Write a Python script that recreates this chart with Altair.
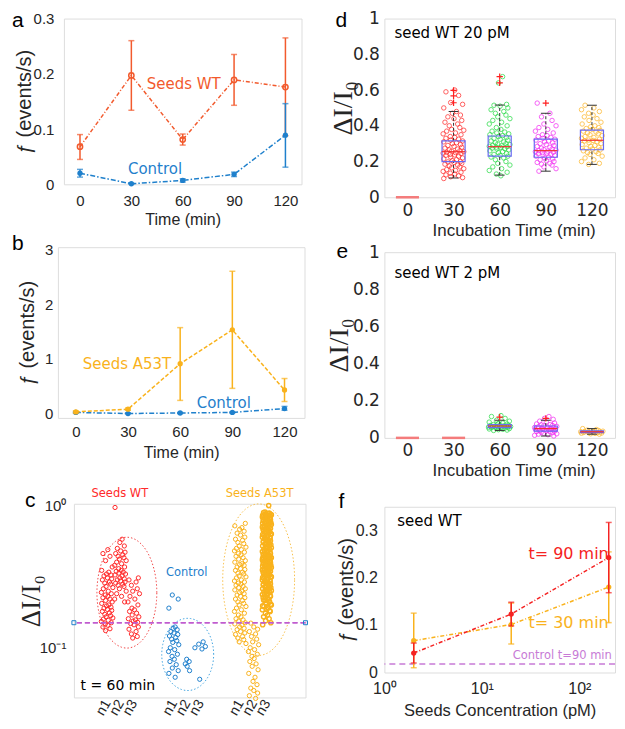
import altair as alt
import numpy as np
import pandas as pd

# ------------------------------------------------------------------ data
TIME = [0, 30, 60, 90, 120]

# panel a
A_WT = [0.068, 0.197, 0.081, 0.189, 0.176]
A_WT_LO = [0.045, 0.134, 0.071, 0.143, 0.088]
A_WT_HI = [0.090, 0.260, 0.091, 0.235, 0.265]
A_CTRL = [0.020, 0.001, 0.007, 0.018, 0.089]
A_CTRL_LO = [0.013, 0.000, 0.004, 0.014, 0.031]
A_CTRL_HI = [0.027, 0.002, 0.010, 0.022, 0.146]

# panel b
B_A53T = [0.03, 0.08, 0.91, 1.53, 0.43]
B_A53T_LO = [0.01, 0.06, 0.24, 0.46, 0.22]
B_A53T_HI = [0.05, 0.10, 1.57, 2.60, 0.64]
B_CTRL = [0.02, 0.00, 0.01, 0.02, 0.09]
B_CTRL_LO = [0.01, 0.00, 0.00, 0.01, 0.06]
B_CTRL_HI = [0.03, 0.01, 0.02, 0.03, 0.13]

# panel c  (t = 60 min, three recordings per condition)
C_TICK_POS = [3, 4, 5, 8, 9, 10, 13, 14, 15]
C_TICK_LABELS = ["n1", "n2", "n3", "n1", "n2", "n3", "n1", "n2", "n3"]
C_YTICKS = [0.1, 1]
C_YLABELS = ["10⁻¹", "10⁰"]
C_WT_N1 = [0.49, 0.46, 0.44, 0.41, 0.37, 0.35, 0.34, 0.33, 0.325, 0.32, 0.31, 0.305, 0.30, 0.29,
           0.285, 0.28, 0.27, 0.265, 0.26, 0.25, 0.245, 0.24, 0.235, 0.23, 0.225, 0.22, 0.215, 0.21,
           0.205, 0.20, 0.197, 0.193, 0.19, 0.186, 0.183, 0.18, 0.176, 0.172, 0.168, 0.165, 0.162,
           0.159, 0.156, 0.153, 0.15, 0.147, 0.144, 0.14, 0.136, 0.132]
C_WT_N2 = [0.97, 0.58, 0.55, 0.52, 0.50, 0.48, 0.47, 0.46, 0.45, 0.44, 0.43, 0.42, 0.41, 0.40, 0.39,
           0.38, 0.37, 0.36, 0.35, 0.345, 0.34, 0.335, 0.33, 0.325, 0.32, 0.31, 0.305, 0.30, 0.295,
           0.29, 0.285, 0.28, 0.275, 0.27, 0.26, 0.25, 0.24, 0.23, 0.22, 0.21]
C_WT_N3 = [0.31, 0.30, 0.29, 0.275, 0.26, 0.25, 0.24, 0.23, 0.22, 0.21, 0.20, 0.19, 0.185, 0.18,
           0.175, 0.17, 0.165, 0.16, 0.157, 0.154, 0.151, 0.148, 0.145, 0.14, 0.135, 0.13, 0.125,
           0.12, 0.117]
C_CTRL_N1 = [0.235, 0.22, 0.19, 0.14, 0.137, 0.134, 0.13, 0.127, 0.124, 0.121, 0.118, 0.115, 0.112,
             0.109, 0.105, 0.10, 0.097, 0.094, 0.09, 0.087, 0.083, 0.08, 0.076, 0.072, 0.069, 0.066,
             0.062]
C_CTRL_N2 = [0.083, 0.080, 0.077, 0.074, 0.069]
C_CTRL_N3 = [0.110, 0.106, 0.102, 0.100, 0.098, 0.060]
C_A53T_N1 = [0.75, 0.72, 0.70, 0.68, 0.66, 0.64, 0.62, 0.60, 0.58, 0.57, 0.55, 0.54, 0.52, 0.51,
             0.50, 0.49, 0.48, 0.47, 0.46, 0.45, 0.44, 0.43, 0.42, 0.41, 0.40, 0.39, 0.385, 0.38,
             0.37, 0.36, 0.355, 0.35, 0.34, 0.335, 0.33, 0.32, 0.315, 0.31, 0.30, 0.295, 0.29,
             0.285, 0.28, 0.275, 0.27, 0.265, 0.26, 0.255, 0.25, 0.245, 0.24, 0.235, 0.23, 0.225,
             0.22, 0.215, 0.21, 0.205, 0.20, 0.195, 0.19, 0.185, 0.18, 0.175, 0.17, 0.165, 0.16,
             0.157, 0.154, 0.15, 0.147, 0.144, 0.14, 0.137, 0.134, 0.13, 0.127, 0.124, 0.12, 0.117,
             0.114, 0.11, 0.107]
C_A53T_N2 = [0.149, 0.14, 0.135, 0.13, 0.125, 0.12, 0.115, 0.11, 0.105, 0.10, 0.097, 0.094, 0.09,
             0.087, 0.084, 0.08, 0.077, 0.074, 0.07, 0.066, 0.062, 0.058, 0.055, 0.052, 0.05, 0.048,
             0.046, 0.044]
C_A53T_N3 = [1.0, 0.90, 0.88, 0.87, 0.86, 0.85, 0.84, 0.83, 0.82, 0.81, 0.80, 0.79, 0.78, 0.77,
             0.76, 0.75, 0.74, 0.73, 0.72, 0.71, 0.70, 0.69, 0.68, 0.67, 0.66, 0.65, 0.64, 0.63,
             0.62, 0.61, 0.60, 0.59, 0.58, 0.57, 0.56, 0.55, 0.54, 0.53, 0.52, 0.51, 0.50, 0.49,
             0.48, 0.47, 0.46, 0.455, 0.45, 0.445, 0.44, 0.435, 0.43, 0.425, 0.42, 0.415, 0.41,
             0.405, 0.40, 0.395, 0.39, 0.385, 0.38, 0.375, 0.37, 0.365, 0.36, 0.355, 0.35, 0.345,
             0.34, 0.335, 0.33, 0.325, 0.32, 0.315, 0.31, 0.305, 0.30, 0.295, 0.29, 0.285, 0.28,
             0.275, 0.27, 0.265, 0.26, 0.255, 0.25, 0.245, 0.24, 0.235, 0.23, 0.225, 0.22, 0.215,
             0.21, 0.205, 0.20, 0.195, 0.19, 0.185, 0.18, 0.175, 0.17, 0.165, 0.16, 0.155, 0.15,
             0.145]
C_A53T_N3B = [0.895, 0.885, 0.875, 0.865, 0.855, 0.845, 0.835, 0.825, 0.815, 0.805, 0.795, 0.785,
              0.775, 0.765, 0.755, 0.745, 0.735, 0.725, 0.715, 0.705, 0.695, 0.685, 0.675, 0.665,
              0.655, 0.645, 0.635, 0.625, 0.615, 0.605, 0.595, 0.585, 0.575, 0.565, 0.555, 0.545,
              0.535, 0.525, 0.515, 0.505, 0.495, 0.485, 0.475, 0.465, 0.458, 0.452, 0.447, 0.442,
              0.437, 0.432, 0.427, 0.422, 0.417, 0.412, 0.407, 0.402, 0.397, 0.392, 0.387, 0.382,
              0.377, 0.372, 0.367, 0.362, 0.357, 0.352, 0.347, 0.342, 0.337, 0.332, 0.327, 0.322,
              0.317, 0.312, 0.307, 0.302, 0.297, 0.292, 0.287, 0.282, 0.277, 0.272, 0.267, 0.262,
              0.257, 0.252, 0.247, 0.242, 0.237, 0.232, 0.227, 0.222, 0.217, 0.212, 0.207, 0.202,
              0.197, 0.192, 0.187, 0.182]
C_THRESHOLD = 0.15
# ellipses: centre x, half width (x units), log10 centre y, log10 half height
C_ELL_CX = [4.48, 9.05, 14.38]
C_ELL_RX = [2.25, 1.95, 2.70]
C_ELL_LCY = [-0.6125, -1.047, -0.521]
C_ELL_LRY = [0.39, 0.254, 0.533]

# panel d  (seed WT 20 pM)
D_CATS = [30, 60, 90, 120]
D_Q1 = [0.200, 0.230, 0.224, 0.266]
D_MED = [0.255, 0.283, 0.261, 0.319]
D_Q3 = [0.316, 0.343, 0.325, 0.376]
D_WLO = [0.108, 0.124, 0.146, 0.184]
D_WHI = [0.480, 0.516, 0.470, 0.515]
D_OUT_X = [30, 30, 30, 60, 60, 90]
D_OUT_Y = [0.598, 0.567, 0.529, 0.675, 0.640, 0.527]
D_EMPTY = [0]
D_P30 = [0.60, 0.59, 0.57, 0.53, 0.52, 0.50, 0.48, 0.47, 0.46, 0.45, 0.44, 0.43, 0.42, 0.41, 0.40,
         0.39, 0.38, 0.375, 0.37, 0.36, 0.355, 0.35, 0.34, 0.335, 0.33, 0.325, 0.32, 0.315, 0.31,
         0.305, 0.30, 0.295, 0.29, 0.285, 0.28, 0.275, 0.27, 0.265, 0.26, 0.258, 0.255, 0.252,
         0.25, 0.247, 0.245, 0.24, 0.237, 0.235, 0.23, 0.225, 0.22, 0.215, 0.21, 0.205, 0.20,
         0.198, 0.195, 0.19, 0.185, 0.18, 0.175, 0.17, 0.165, 0.16, 0.155, 0.15, 0.145, 0.14,
         0.135, 0.13, 0.125, 0.12, 0.115, 0.11, 0.105]
D_P60 = [0.675, 0.64, 0.52, 0.515, 0.51, 0.50, 0.49, 0.48, 0.47, 0.46, 0.45, 0.44, 0.43, 0.42,
         0.41, 0.40, 0.39, 0.38, 0.37, 0.365, 0.36, 0.355, 0.35, 0.345, 0.34, 0.335, 0.33, 0.325,
         0.32, 0.315, 0.31, 0.305, 0.30, 0.298, 0.295, 0.29, 0.288, 0.285, 0.283, 0.28, 0.278,
         0.275, 0.272, 0.27, 0.265, 0.26, 0.255, 0.25, 0.245, 0.24, 0.235, 0.23, 0.225, 0.22,
         0.21, 0.20, 0.19, 0.18, 0.17, 0.16, 0.15, 0.14, 0.13, 0.12]
D_P90 = [0.527, 0.47, 0.45, 0.43, 0.41, 0.40, 0.39, 0.38, 0.37, 0.36, 0.35, 0.345, 0.34, 0.335,
         0.33, 0.325, 0.32, 0.315, 0.31, 0.305, 0.30, 0.295, 0.29, 0.285, 0.28, 0.275, 0.27,
         0.267, 0.264, 0.261, 0.258, 0.255, 0.252, 0.25, 0.247, 0.244, 0.24, 0.237, 0.234, 0.23,
         0.225, 0.22, 0.215, 0.21, 0.205, 0.20, 0.195, 0.19, 0.185, 0.18, 0.17, 0.16, 0.146]
D_P120 = [0.515, 0.50, 0.49, 0.48, 0.47, 0.46, 0.45, 0.44, 0.43, 0.42, 0.41, 0.40, 0.395, 0.39,
          0.385, 0.38, 0.375, 0.37, 0.365, 0.36, 0.355, 0.35, 0.345, 0.34, 0.335, 0.33, 0.325,
          0.32, 0.318, 0.315, 0.31, 0.305, 0.30, 0.295, 0.29, 0.285, 0.28, 0.275, 0.27, 0.265,
          0.26, 0.255, 0.25, 0.245, 0.24, 0.23, 0.22, 0.21, 0.20, 0.19, 0.184]

# panel e  (seed WT 2 pM)
E_CATS = [60, 90, 120]
E_Q1 = [0.055, 0.036, 0.028]
E_MED = [0.064, 0.050, 0.033]
E_Q3 = [0.072, 0.064, 0.038]
E_WLO = [0.040, 0.010, 0.020]
E_WHI = [0.095, 0.095, 0.050]
E_OUT_X = [60, 90]
E_OUT_Y = [0.112, 0.105]
E_EMPTY = [0, 30]
E_P60 = [0.12, 0.115, 0.105, 0.095, 0.09, 0.085, 0.08, 0.078, 0.075, 0.072, 0.07, 0.068, 0.066,
         0.065, 0.064, 0.063, 0.062, 0.061, 0.06, 0.059, 0.058, 0.057, 0.056, 0.055, 0.054, 0.053,
         0.052, 0.05, 0.048, 0.046, 0.044, 0.042, 0.04]
E_P90 = [0.115, 0.105, 0.10, 0.09, 0.085, 0.08, 0.075, 0.072, 0.07, 0.067, 0.065, 0.062, 0.06,
         0.058, 0.056, 0.055, 0.053, 0.052, 0.05, 0.049, 0.048, 0.047, 0.046, 0.045, 0.044, 0.042,
         0.04, 0.038, 0.036, 0.034, 0.032, 0.03, 0.028, 0.025, 0.022, 0.02, 0.017, 0.014, 0.01]
E_P120 = [0.05, 0.045, 0.042, 0.04, 0.038, 0.036, 0.035, 0.034, 0.033, 0.032, 0.031, 0.03, 0.029,
          0.028, 0.027, 0.026, 0.025, 0.024, 0.022, 0.02]

# panel f
F_CONC = [2, 20, 200]
F_T90 = [0.041, 0.123, 0.242]
F_T90_LO = [0.020, 0.098, 0.168]
F_T90_HI = [0.062, 0.148, 0.316]
F_T30 = [0.067, 0.101, 0.180]
F_T30_LO = [0.010, 0.060, 0.105]
F_T30_HI = [0.125, 0.146, 0.254]
F_CTRL = 0.018
F_XTICKS = [1, 10, 100]
F_XLABELS = ["10⁰", "10¹", "10²"]

# horizontal jitter pattern (fraction of the half spread)
JIT = [0.11, -0.71, 0.47, -0.27, 0.84, -0.91, 0.27, -0.11, 0.64, -0.53, 0.04, 0.76, -0.80,
       0.38, -0.40, 0.58, -0.18, 0.95, -0.64, 0.18, -0.97, 0.69, -0.31]

# ------------------------------------------------------------------ style
FONT = "Liberation Sans"
VFONT = "DejaVu Sans"
SERIF = "Liberation Serif, DejaVu Serif"
LAB = "#262626"
FRAME = "#8f8f8f"
WT_A = "#F25A2D"
BLUE = "#1F80CC"
ORANGE = "#F9B21C"
RED = "#FF2A2A"
GREEN = "#27DB45"
MAGENTA = "#F22CF2"
ORANGE_D = "#FDB629"
BOXC = "#6A6AF2"
PURPLE = "#C05CCF"
ONE = pd.DataFrame({"k": [0]})


def expr_from(values, labels):
    e = "''"
    for v, l in reversed(list(zip(values, labels))):
        e = f"(datum.value == {v} ? '{l}' : {e})"
    return e


def ax_bottom(values, title, w, ty, lpad, lfont, lsize, tfont, tsize, fmt="~g", expr=None,
              angle=0, tshift=0):
    kw = dict(values=values, grid=False, domain=False, ticks=False, labelFont=lfont,
              labelFontSize=lsize, labelColor=LAB, labelPadding=lpad, labelFlush=False,
              labelOverlap=False, title=title, titleFont=tfont, titleFontSize=tsize,
              titleFontWeight="normal", titleColor=LAB, titleX=w / 2 + tshift, titleY=ty,
              titleBaseline="middle", titleAlign="center", labelAngle=angle)
    if expr:
        kw["labelExpr"] = expr
    else:
        kw["format"] = fmt
    return alt.Axis(**kw)


def ax_left(values, title, h, tx, lpad, lfont, lsize, tfont, tsize, fmt="~g", expr=None):
    kw = dict(values=values, grid=False, domain=False, ticks=False, labelFont=lfont,
              labelFontSize=lsize, labelColor=LAB, labelPadding=lpad, labelFlush=False,
              labelOverlap=False, title=title, titleFont=tfont, titleFontSize=tsize,
              titleFontWeight="normal", titleColor=LAB, titleX=-tx, titleY=h / 2,
              titleAngle=270, titleBaseline="middle", titleAlign="center")
    if expr:
        kw["labelExpr"] = expr
    else:
        kw["format"] = fmt
    return alt.Axis(**kw)


def enc(xs, xa, ys, ya):
    X = lambda f: alt.X(f, type="quantitative", scale=xs, axis=xa)
    Y = lambda f: alt.Y(f, type="quantitative", scale=ys, axis=ya)
    return X, Y


def struts(x1, y1, x2, y2):
    # invisible corner points that fix the layout cell of a panel
    a = alt.Chart(ONE).mark_point(filled=True, size=1, opacity=0).encode(
        x=alt.value(x1), y=alt.value(y1))
    b = alt.Chart(ONE).mark_point(filled=True, size=1, opacity=0).encode(
        x=alt.value(x2), y=alt.value(y2))
    return [a, b]


def spacer():
    return alt.Chart(ONE).mark_point(filled=True, size=1, opacity=0).encode(
        x=alt.value(0), y=alt.value(0)).properties(
        width=1, height=1, view=alt.ViewBackground(stroke="transparent"))


def letter(ch, dx, dy):
    return alt.Chart(ONE).mark_text(text=ch, align="left", baseline="alphabetic", font=FONT,
                                    fontSize=21, color="black").encode(
        x=alt.value(dx), y=alt.value(dy))


def series(xs_vals, v, lo, hi, X, Y, color, filled, dash, size=28, sw=1.5, cap=6):
    df = pd.DataFrame({"t": xs_vals, "v": v, "lo": lo, "hi": hi})
    base = alt.Chart(df)
    return [
        base.mark_line(color=color, strokeDash=dash, strokeWidth=sw).encode(x=X("t"), y=Y("v")),
        base.mark_rule(color=color, strokeWidth=sw).encode(x=X("t"), y=Y("lo"), y2=alt.Y2("hi")),
        base.mark_tick(color=color, orient="horizontal", size=cap, thickness=sw).encode(
            x=X("t"), y=Y("lo")),
        base.mark_tick(color=color, orient="horizontal", size=cap, thickness=sw).encode(
            x=X("t"), y=Y("hi")),
        base.mark_point(color=color, filled=filled, size=size, strokeWidth=sw, opacity=1,
                        shape="circle").encode(x=X("t"), y=Y("v")),
    ]


def label(x, y, text, X, Y, color, size, font=VFONT, align="left"):
    df = pd.DataFrame({"x": [x], "y": [y], "s": [text]})
    return alt.Chart(df).mark_text(align=align, baseline="middle", font=font, fontSize=size,
                                   color=color).encode(x=X("x"), y=Y("y"), text="s:N")


def cluster(values, center, spread, shift):
    n = len(JIT)
    return pd.DataFrame({"x": [center + JIT[(i + shift) % n] * spread for i in range(len(values))],
                         "y": values})


def dots(df, X, Y, color, size, sw=1.0, op=1.0):
    return alt.Chart(df).mark_point(shape="circle", filled=False, size=size, strokeWidth=sw,
                                    color=color, opacity=op).encode(x=X("x"), y=Y("y"))


# ------------------------------------------------------------------ panel a
W, H = 238, 166
X, Y = enc(alt.Scale(domain=[-9.4, 129.4], nice=False, zero=False),
           ax_bottom(TIME, "Time (min)", W, 35, 9, FONT, 15, FONT, 16, fmt="d"),
           alt.Scale(domain=[0, 0.3], nice=False, zero=False),
           ax_left([0, 0.1, 0.2, 0.3], "ƒ (events/s)", H, 39, 10, FONT, 15, FONT, 20))
panel_a = alt.layer(
    *series(TIME, A_WT, A_WT_LO, A_WT_HI, X, Y, WT_A, False, [4, 2, 1, 2]),
    *series(TIME, A_CTRL, A_CTRL_LO, A_CTRL_HI, X, Y, BLUE, True, [5, 2, 1.5, 2]),
    label(39, 0.182, "Seeds WT", X, Y, WT_A, 15),
    label(28, 0.028, "Control", X, Y, BLUE, 15),
    letter("a", -52, 8),
    *struts(-52, -8, 254, 211),
).properties(width=W, height=H)

# ------------------------------------------------------------------ panel b
W, H = 247, 171
X, Y = enc(alt.Scale(domain=[-10.3, 131.5], nice=False, zero=False),
           ax_bottom(TIME, "Time (min)", W, 35, 7, FONT, 15, FONT, 16, fmt="d"),
           alt.Scale(domain=[-0.08, 3.04], nice=False, zero=False),
           ax_left([0, 1, 2, 3], "ƒ (events/s)", H, 30, 5, FONT, 15, FONT, 20))
panel_b = alt.layer(
    *series(TIME, B_CTRL, B_CTRL_LO, B_CTRL_HI, X, Y, BLUE, True, [5, 2, 1.5, 2]),
    *series(TIME, B_A53T, B_A53T_LO, B_A53T_HI, X, Y, ORANGE, True, [4, 2]),
    label(4, 0.91, "Seeds A53T", X, Y, ORANGE, 15),
    label(69.5, 0.19, "Control", X, Y, BLUE, 15),
    letter("b", -46, 3),
    *struts(-46, -16, 260, 225),
).properties(width=W, height=H)

# ------------------------------------------------------------------ panel c
W, H = 232, 194
X, Y = enc(alt.Scale(domain=[0.5, 17.9], nice=False, zero=False),
           ax_bottom(C_TICK_POS, "", W, 40, 3, FONT, 14, FONT, 14,
                     expr=expr_from(C_TICK_POS, C_TICK_LABELS), angle=300),
           alt.Scale(type="log", domain=[0.0447, 1.03], nice=False),
           ax_left(C_YTICKS, "ΔI/I₀", H, 42, 8, FONT, 15, SERIF, 27,
                   expr=expr_from(C_YTICKS, C_YLABELS)))
ang = np.linspace(0, 2 * np.pi, 91)
ell_layers = []
for cx, rx, cy, ry, col in zip(C_ELL_CX, C_ELL_RX, C_ELL_LCY, C_ELL_LRY,
                               ["#F04848", "#45A6E0", "#F7C04A"]):
    edf = pd.DataFrame({"x": cx + rx * np.cos(ang), "y": 10 ** (cy + ry * np.sin(ang)),
                        "i": np.arange(len(ang))})
    ell_layers.append(alt.Chart(edf).mark_line(strokeDash=[1.5, 2], strokeWidth=1, color=col)
                      .encode(x=X("x"), y=Y("y"), order="i:Q"))
thr = pd.DataFrame({"x": [0.5, 17.9], "y": [C_THRESHOLD, C_THRESHOLD]})
panel_c = alt.layer(
    *ell_layers,
    dots(cluster(C_WT_N1, 3, 0.45, 0), X, Y, RED, 18),
    dots(cluster(C_WT_N2, 4, 0.45, 5), X, Y, RED, 18),
    dots(cluster(C_WT_N3, 5, 0.45, 11), X, Y, RED, 18),
    dots(cluster(C_CTRL_N1, 8, 0.4, 3), X, Y, BLUE, 18),
    dots(cluster(C_CTRL_N2, 9, 0.25, 7), X, Y, BLUE, 18),
    dots(cluster(C_CTRL_N3, 10, 0.45, 2), X, Y, BLUE, 18),
    dots(cluster(C_A53T_N1, 13, 0.45, 4), X, Y, ORANGE, 18),
    dots(cluster(C_A53T_N2, 14, 0.4, 9), X, Y, ORANGE, 18),
    dots(cluster(C_A53T_N3, 15, 0.35, 13), X, Y, ORANGE, 18, sw=1.4),
    dots(cluster(C_A53T_N3B, 15, 0.35, 1), X, Y, ORANGE, 18, sw=1.4),
    alt.Chart(thr).mark_rule(color=PURPLE, strokeDash=[5, 3], strokeWidth=1.6).encode(
        y=Y("y")),
    alt.Chart(thr).mark_point(shape="square", filled=False, size=16, strokeWidth=1,
                              color=BLUE, opacity=1).encode(x=X("x"), y=Y("y")),
    label(3.95, 1.21, "Seeds WT", X, Y, RED, 11.5, align="center"),
    label(14.45, 1.21, "Seeds A53T", X, Y, ORANGE, 11.5, align="center"),
    label(8.98, 0.335, "Control", X, Y, BLUE, 11.5, align="center"),
    label(3.8, 0.054, "t = 60 min", X, Y, "black", 14, align="center"),
    letter("c", -49, 3),
    *struts(-62, -30, 244, 213),
).properties(width=W, height=H)


# ------------------------------------------------------------------ panels d, e
def box_panel(W, H, cats, q1, med, q3, wlo, whi, out_x, out_y, empty, groups, spread,
              caption, cap_y, letter_ch, letter_pos, strut_box, title_x, ty):
    X, Y = enc(alt.Scale(domain=[-15, 135], nice=False, zero=False),
               ax_bottom(TIME, "Incubation Time (min)", W, ty, 5, VFONT, 17, FONT, 17, fmt="d",
                         tshift=14),
               alt.Scale(domain=[0, 1], nice=False, zero=False),
               ax_left([0, 0.2, 0.4, 0.6, 0.8, 1], "ΔI/I₀", H, title_x, 5, VFONT, 17,
                       SERIF, 28))
    pts = [dots(cluster(vals, c, spread, k * 6), X, Y, col, 20, op=0.75)
           for k, (c, vals, col) in enumerate(groups)]
    bx = pd.DataFrame({"c": cats, "x1": [c - 7.5 for c in cats], "x2": [c + 7.5 for c in cats],
                       "k1": [c - 3.2 for c in cats], "k2": [c + 3.2 for c in cats],
                       "q1": q1, "med": med, "q3": q3, "wlo": wlo, "whi": whi})
    emp = pd.DataFrame({"x1": [c - 7.5 for c in empty], "x2": [c + 7.5 for c in empty],
                        "y": [0] * len(empty)})
    outl = pd.DataFrame({"x": out_x, "y": out_y})
    b = alt.Chart(bx)
    layers = [
        *pts,
        b.mark_rule(color="#333333", strokeDash=[3, 2], strokeWidth=1).encode(
            x=X("c"), y=Y("q3"), y2=alt.Y2("whi")),
        b.mark_rule(color="#333333", strokeDash=[3, 2], strokeWidth=1).encode(
            x=X("c"), y=Y("wlo"), y2=alt.Y2("q1")),
        b.mark_rule(color="#333333", strokeWidth=1).encode(x=X("k1"), x2=alt.X2("k2"),
                                                           y=Y("whi")),
        b.mark_rule(color="#333333", strokeWidth=1).encode(x=X("k1"), x2=alt.X2("k2"),
                                                           y=Y("wlo")),
        b.mark_rect(fillOpacity=0, stroke=BOXC, strokeWidth=1.2).encode(
            x=X("x1"), x2=alt.X2("x2"), y=Y("q1"), y2=alt.Y2("q3")),
        b.mark_rule(color="#F03030", strokeWidth=1.2).encode(x=X("x1"), x2=alt.X2("x2"),
                                                             y=Y("med")),
        alt.Chart(emp).mark_rule(color="#F47C7C", strokeWidth=2.5).encode(
            x=X("x1"), x2=alt.X2("x2"), y=Y("y")),
        alt.Chart(outl).mark_point(shape="M-1,0L1,0M0,-1L0,1", filled=False, size=40,
                                   strokeWidth=1.2, color="#FF2020", opacity=1).encode(
            x=X("x"), y=Y("y")),
        label(-8.5, cap_y, caption, X, Y, "black", 15),
        letter(letter_ch, letter_pos[0], letter_pos[1]),
        *struts(*strut_box),
    ]
    return alt.layer(*layers).properties(width=W, height=H)


panel_d = box_panel(231, 179, D_CATS, D_Q1, D_MED, D_Q3, D_WLO, D_WHI, D_OUT_X, D_OUT_Y, D_EMPTY,
                    [(30, D_P30, RED), (60, D_P60, GREEN), (90, D_P90, MAGENTA),
                     (120, D_P120, ORANGE_D)], 7.0,
                    "seed WT 20 pM", 0.918, "d", (-49, 8), (-65, -8, 230, 221), 41, 33)
panel_e = box_panel(231, 186, E_CATS, E_Q1, E_MED, E_Q3, E_WLO, E_WHI, E_OUT_X, E_OUT_Y, E_EMPTY,
                    [(60, E_P60, GREEN), (90, E_P90, MAGENTA), (120, E_P120, ORANGE_D)], 7.5,
                    "seed WT 2 pM", 0.889, "e", (-48, 6), (-65, -11, 230, 230), 45, 33)

# ------------------------------------------------------------------ panel f
W, H = 231, 166
X, Y = enc(alt.Scale(type="log", domain=[1, 232], nice=False),
           ax_bottom(F_XTICKS, "Seeds Concentration (pM)", W, 38, 8, FONT, 16, FONT, 16.5,
                     expr=expr_from(F_XTICKS, F_XLABELS)),
           alt.Scale(domain=[0, 0.349], nice=False, zero=False),
           ax_left([0, 0.1, 0.2, 0.3], "ƒ (events/s)", H, 38, 7, FONT, 16, FONT, 20))
ctrl_f = pd.DataFrame({"y": [F_CTRL]})
panel_f = alt.layer(
    alt.Chart(ctrl_f).mark_rule(color="#C77BD6", strokeDash=[6, 4], strokeWidth=1.6).encode(
        y=Y("y")),
    *series(F_CONC, F_T30, F_T30_LO, F_T30_HI, X, Y, ORANGE, True, [4, 2, 1, 2]),
    *series(F_CONC, F_T90, F_T90_LO, F_T90_HI, X, Y, "#F52222", True, [4, 2, 1, 2]),
    label(1.355, 0.318, "seed WT", X, Y, "black", 15),
    label(200, 0.249, "t= 90 min", X, Y, "#F52222", 16, align="right"),
    label(200, 0.104, "t= 30 min", X, Y, ORANGE, 16, align="right"),
    label(215, 0.034, "Control t=90 min", X, Y, "#C77BD6", 11.5, align="right"),
    letter("f", -46, 1),
    *struts(-65, -23, 230, 212),
).properties(width=W, height=H)

# ------------------------------------------------------------------ layout
left = alt.vconcat(
    alt.hconcat(spacer(), panel_a, spacing=0),
    alt.hconcat(spacer(), panel_b, spacing=0),
    alt.hconcat(spacer(), panel_c, spacing=0),
    spacing=0,
)
right = alt.vconcat(panel_d, panel_e, panel_f, spacing=0)
chart = alt.hconcat(left, right, spacing=0).properties(
    padding={"left": 0, "top": 0, "right": 0, "bottom": 0}
).configure_view(stroke=FRAME, strokeWidth=1).configure(background="white")

chart.save("out.html", embed_options={"renderer": "svg", "actions": False})
